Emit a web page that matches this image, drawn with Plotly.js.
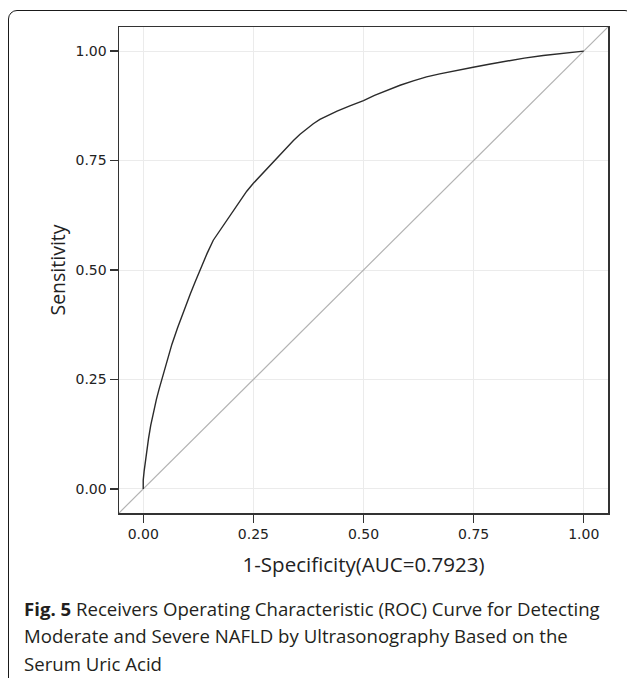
<!DOCTYPE html>
<html>
<head>
<meta charset="utf-8">
<script src="https://cdn.plot.ly/plotly-3.0.1.min.js"></script>
<style>
  html, body { margin: 0; padding: 0; background: #fff; overflow: hidden; }
  #frame { position: absolute; left: 8px; top: 10px; width: 626px; height: 700px;
           border: 1.6px solid #1a1a1a; border-radius: 9px; box-sizing: border-box; }
  #chart { position: absolute; left: 0; top: 0; width: 627px; height: 678px; }
</style>
</head>
<body>
<div id="frame"></div>
<div id="chart"></div>
<script>
// ROC curve values (1 - specificity, sensitivity)
const fpr = [0.000, 0.000, 0.002, 0.005, 0.008, 0.012, 0.017, 0.023, 0.030, 0.036, 0.042, 0.048, 0.054, 0.065, 0.078, 0.091, 0.107, 0.118, 0.129, 0.145, 0.159, 0.175, 0.190, 0.205, 0.220, 0.235, 0.250, 0.265, 0.280, 0.296, 0.311, 0.326, 0.341, 0.356, 0.371, 0.386, 0.401, 0.420, 0.440, 0.469, 0.500, 0.525, 0.553, 0.583, 0.613, 0.643, 0.673, 0.710, 0.749, 0.785, 0.824, 0.865, 0.908, 0.950, 0.975, 1.000];
const tpr = [0.000, 0.020, 0.040, 0.065, 0.090, 0.115, 0.145, 0.175, 0.205, 0.228, 0.250, 0.272, 0.293, 0.330, 0.368, 0.405, 0.446, 0.473, 0.500, 0.538, 0.568, 0.592, 0.615, 0.638, 0.660, 0.680, 0.698, 0.714, 0.730, 0.748, 0.765, 0.781, 0.796, 0.810, 0.823, 0.834, 0.844, 0.854, 0.863, 0.875, 0.887, 0.899, 0.911, 0.922, 0.932, 0.941, 0.948, 0.956, 0.963, 0.970, 0.977, 0.984, 0.990, 0.995, 0.998, 1.000];
// chance (reference) line endpoints
const refX = [-0.06, 1.06];
const refY = [-0.06, 1.06];
const tickVals = [0, 0.25, 0.5, 0.75, 1];
const tickText = ["0.00", "0.25", "0.50", "0.75", "1.00"];
const xTitle = "1-Specificity(AUC=0.7923)";
const yTitle = "Sensitivity";
const captionLines = [
  "<b>Fig. 5</b> Receivers Operating Characteristic (ROC) Curve for Detecting",
  "Moderate and Severe NAFLD by Ultrasonography Based on the",
  "Serum Uric Acid"
];

const traces = [
  { x: refX, y: refY, mode: "lines", line: { color: "#b3b3b3", width: 1.2 }, hoverinfo: "skip", showlegend: false },
  { x: fpr, y: tpr, mode: "lines", line: { color: "#2b2b2b", width: 1.4 }, showlegend: false }
];

const axisCommon = {
  range: [-0.055, 1.055],
  tickvals: tickVals, ticktext: tickText,
  ticks: "outside", ticklen: 8, tickwidth: 1.4, tickcolor: "#333",
  showline: true, linecolor: "#333", linewidth: 1.5, mirror: true,
  showgrid: true, gridcolor: "#ebebeb", gridwidth: 1,
  zeroline: false,
  tickfont: { family: "DejaVu Sans", size: 14, color: "#222" }
};

const captionY = [608, 635, 663];
const annotations = captionLines.map((t, i) => ({
  text: t, xref: "paper", yref: "paper",
  x: (22 - 119) / (608 - 119),
  y: (513 - captionY[i]) / (513 - 27),
  xanchor: "left", yanchor: "middle", showarrow: false, align: "left",
  font: { family: "Open Sans", size: 18.6, color: "#231f20" }
}));

const layout = {
  width: 627, height: 678,
  margin: { l: 119, r: 19, t: 27, b: 165 },
  paper_bgcolor: "rgba(0,0,0,0)",
  plot_bgcolor: "#ffffff",
  xaxis: Object.assign({}, axisCommon, {
    title: { text: xTitle, font: { family: "Open Sans", size: 20.5, color: "#222" }, standoff: 16 }
  }),
  yaxis: Object.assign({}, axisCommon, {
    title: { text: yTitle, font: { family: "Open Sans", size: 19.5, color: "#222" }, standoff: 4 }
  }),
  annotations: annotations,
  showlegend: false
};

Plotly.newPlot("chart", traces, layout, { displayModeBar: false, staticPlot: true });
</script>
</body>
</html>
